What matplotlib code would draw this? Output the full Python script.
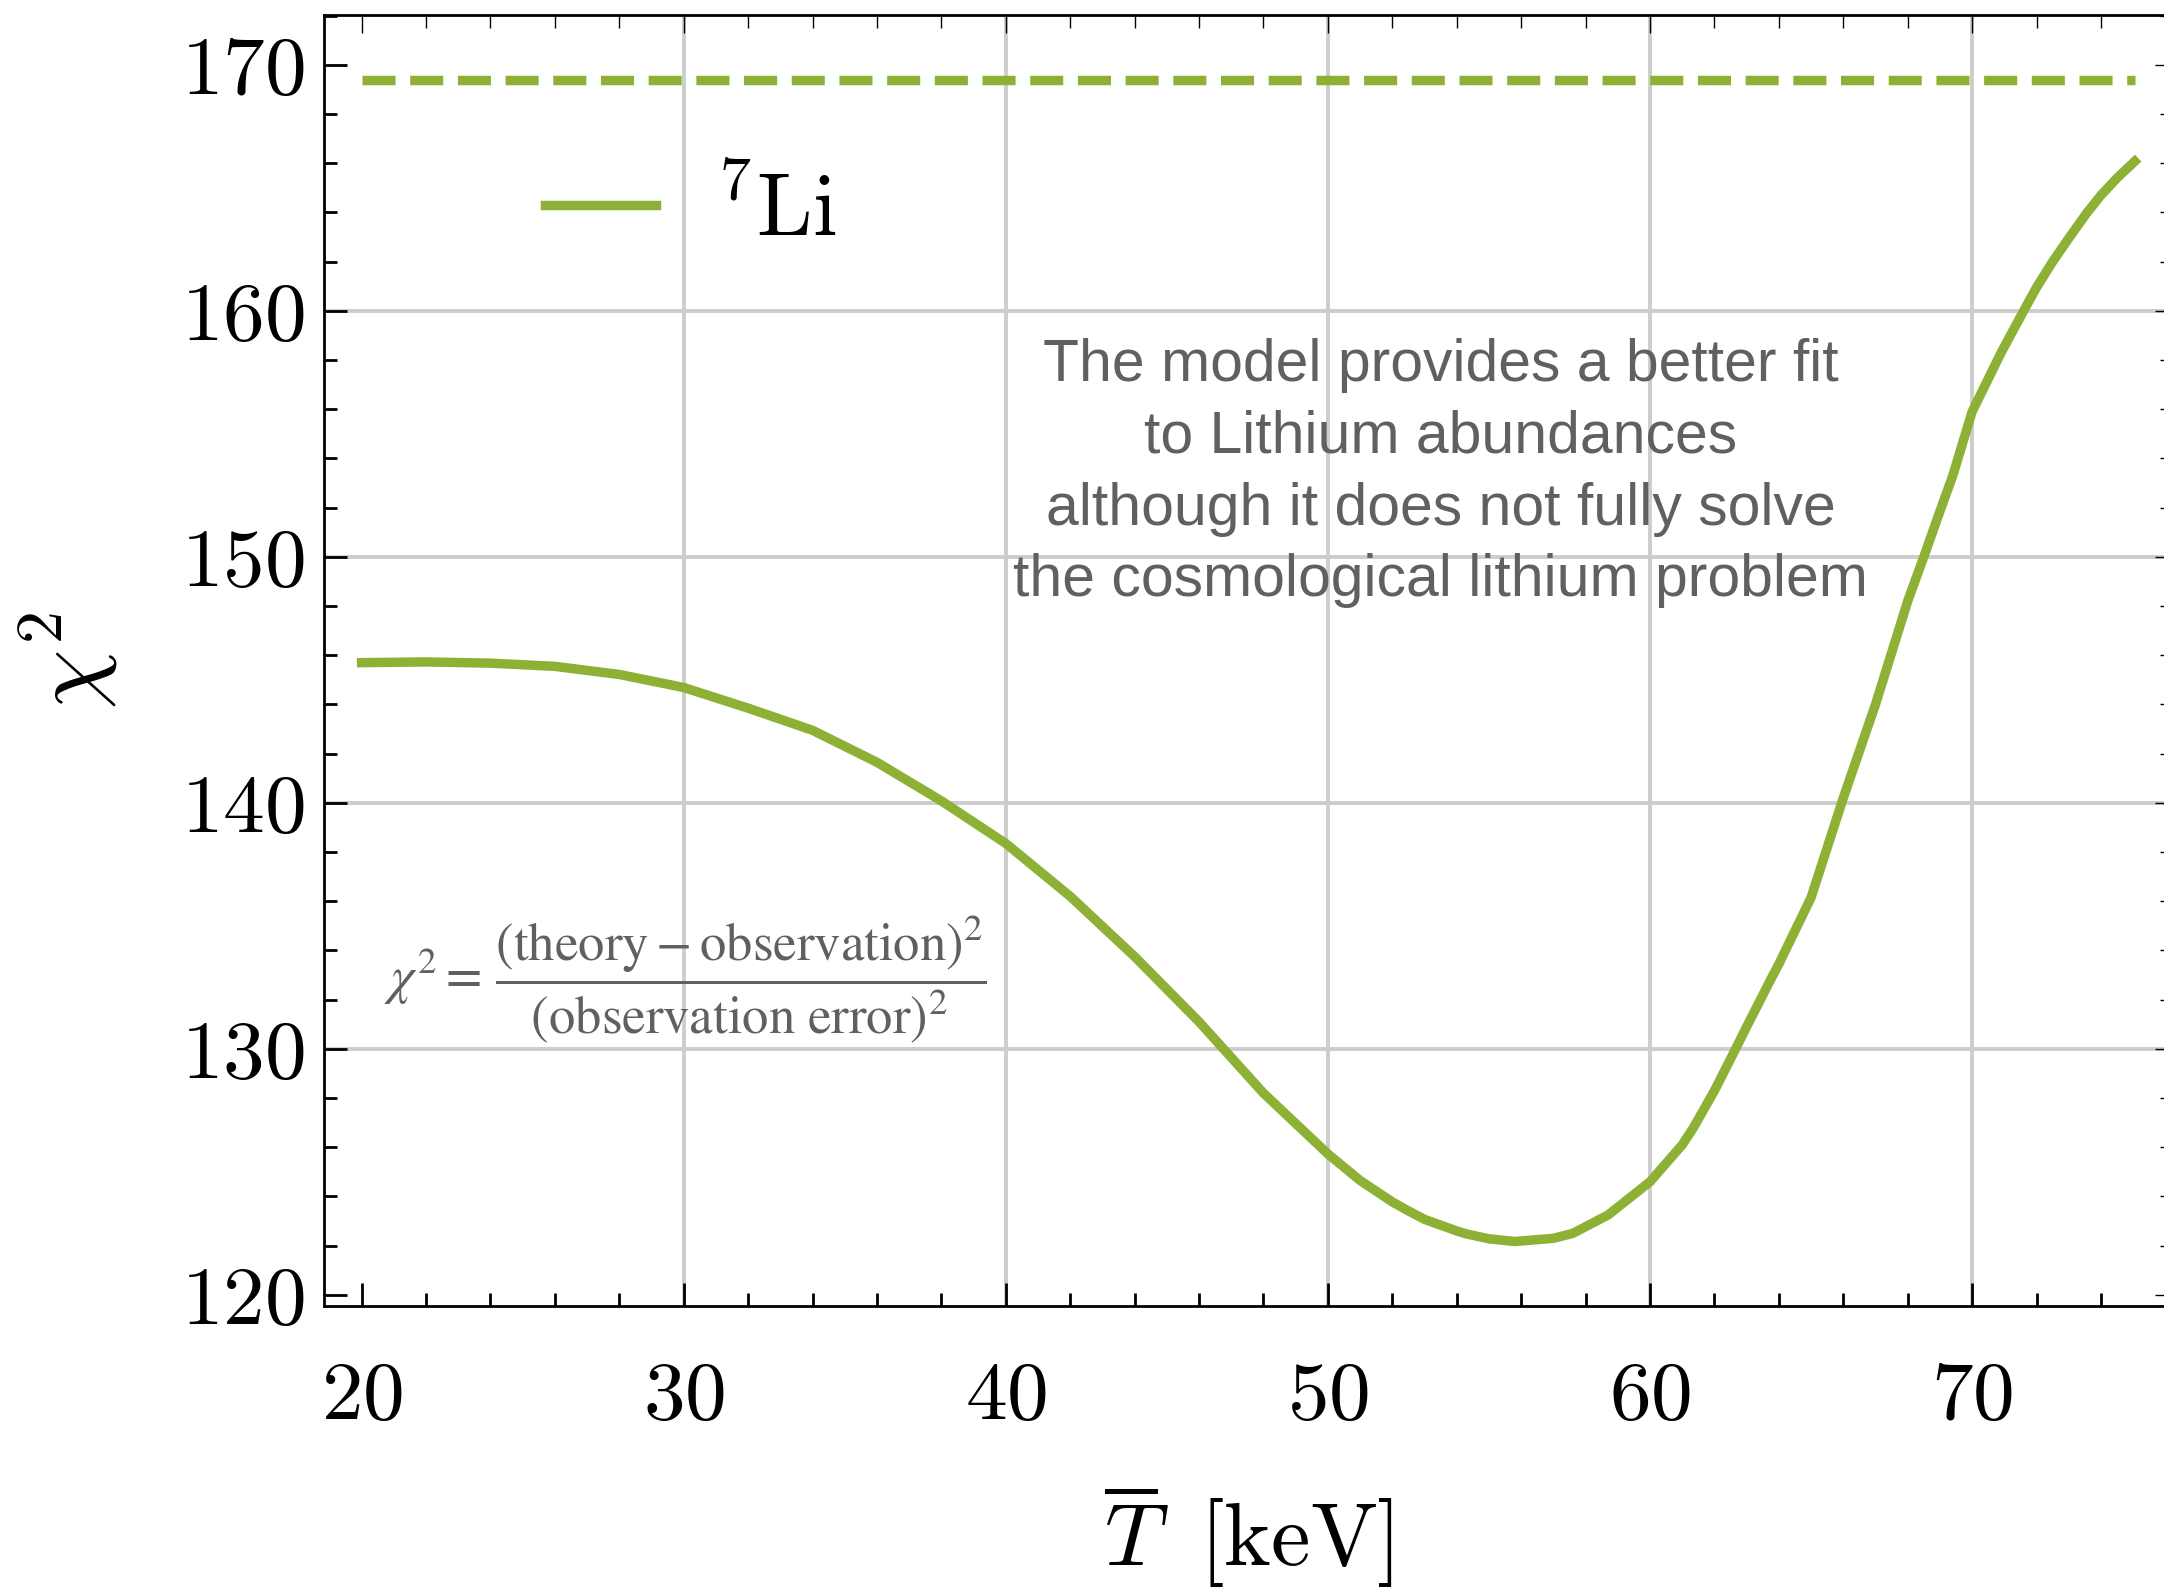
import numpy as np
import matplotlib
matplotlib.use("Agg")
import matplotlib.pyplot as plt
from matplotlib.ticker import MultipleLocator

# temperature [keV] and chi^2
T_keV = [20, 22, 24, 26, 28, 30, 32, 34, 36, 38, 40, 42, 44, 46, 48, 50,
         51, 52, 52.45, 53, 54, 54.3, 55, 55.8, 57, 57.6, 58.7, 60, 61,
         61.35, 62, 62.6, 63, 63.7, 64, 65, 66, 67, 68, 68.5, 69, 69.4,
         70, 70.9, 71.6, 72, 72.5, 73, 73.55, 74, 74.5, 75.05]
chi2_li7 = [145.70, 145.73, 145.68, 145.55, 145.22, 144.69, 143.85, 142.95,
            141.65, 140.08, 138.35, 136.20, 133.75, 131.10, 128.20, 125.73,
            124.65, 123.78, 123.45, 123.07, 122.60, 122.48, 122.28, 122.17,
            122.30, 122.50, 123.25, 124.60, 126.10, 126.80, 128.30, 129.85,
            130.90, 132.70, 133.45, 136.15, 140.20, 144.00, 148.20, 150.00,
            151.85, 153.30, 155.90, 158.30, 160.00, 160.95, 162.00, 162.95,
            163.96, 164.70, 165.40, 166.08]
chi2_ref = 169.4  # dashed reference level

x_ticks = [20, 30, 40, 50, 60, 70]
y_ticks = [120, 130, 140, 150, 160, 170]
# grid is only drawn on the inner major ticks
x_grid = [30, 40, 50, 60, 70]
y_grid = [130, 140, 150, 160]

note = ("The model provides a better fit\n"
        "to Lithium abundances\n"
        "although it does not fully solve\n"
        "the cosmological lithium problem")
formula = (r"$\chi^2 =\, \dfrac{(\mathrm{theory} - \mathrm{observation})^2}"
           r"{(\mathrm{observation\ error})^2}$")

plt.rcParams['font.family'] = 'serif'
plt.rcParams['font.serif'] = ['cmr10']
plt.rcParams['mathtext.fontset'] = 'cm'
plt.rcParams['axes.formatter.use_mathtext'] = True
plt.rcParams['axes.unicode_minus'] = False

green = '#8db135'
grey_txt = '#606060'
grid_col = '#cdcdcd'

fig = plt.figure(figsize=(10.82, 7.94), dpi=200)
ax = fig.add_axes([0.1497, 0.1776, 0.8545, 0.8130])

for xg in x_grid:
    ax.axvline(xg, color=grid_col, lw=1.4, zorder=1)
for yg in y_grid:
    ax.axhline(yg, color=grid_col, lw=1.4, zorder=1)

ax.plot(T_keV, chi2_li7, color=green, lw=3.4, label=r'$^{7}\mathrm{Li}$',
        solid_joinstyle='round', zorder=3)
ax.plot([T_keV[0], T_keV[-1]], [chi2_ref, chi2_ref], color=green, lw=3.4,
        dashes=(3.5, 1.55), zorder=3)

ax.set_xlim(18.83, 76.24)
ax.set_ylim(119.55, 172.03)
ax.set_xticks(x_ticks)
ax.set_yticks(y_ticks)
ax.xaxis.set_minor_locator(MultipleLocator(2))
ax.yaxis.set_minor_locator(MultipleLocator(2))

for s in ax.spines.values():
    s.set_linewidth(1.0)

ax.tick_params(which='both', direction='in', top=True, right=True, width=1.0)
ax.tick_params(which='major', length=8.3, labelsize=30)
ax.tick_params(which='minor', length=4.7)
ax.tick_params(axis='x', which='major', pad=20)
ax.tick_params(axis='y', which='major', pad=7)

# thinner ticks on the top and right side
for t in ax.xaxis.get_major_ticks() + ax.yaxis.get_major_ticks():
    t.tick2line.set_markeredgewidth(0.5)
    t.tick2line.set_markersize(6.5)
for t in ax.xaxis.get_minor_ticks() + ax.yaxis.get_minor_ticks():
    t.tick2line.set_markeredgewidth(0.5)
    t.tick2line.set_markersize(4.7)

ax.set_xlabel(r'$\overline{T}\;\;[\mathrm{keV}]$', fontsize=32)
ax.xaxis.set_label_coords(0.5, -0.136)
ax.set_ylabel(r'$\chi^2$', fontsize=34, va='center')
ax.yaxis.set_label_coords(-0.1375, 0.5)

ax.legend(loc='center left', bbox_to_anchor=(0.1195, 0.847), frameon=False,
          fontsize=32, borderpad=0, borderaxespad=0, handlelength=1.25,
          handletextpad=0.68)

ax.text(53.5, 153.4, note, ha='center', va='center', fontsize=21.2,
        family='Liberation Sans', color=grey_txt, linespacing=1.39, zorder=4)
ax.text(20.7, 132.85, formula, ha='left', va='center', fontsize=19,
        color=grey_txt, math_fontfamily='stix', zorder=4)

fig.savefig('out.png', dpi=200)
